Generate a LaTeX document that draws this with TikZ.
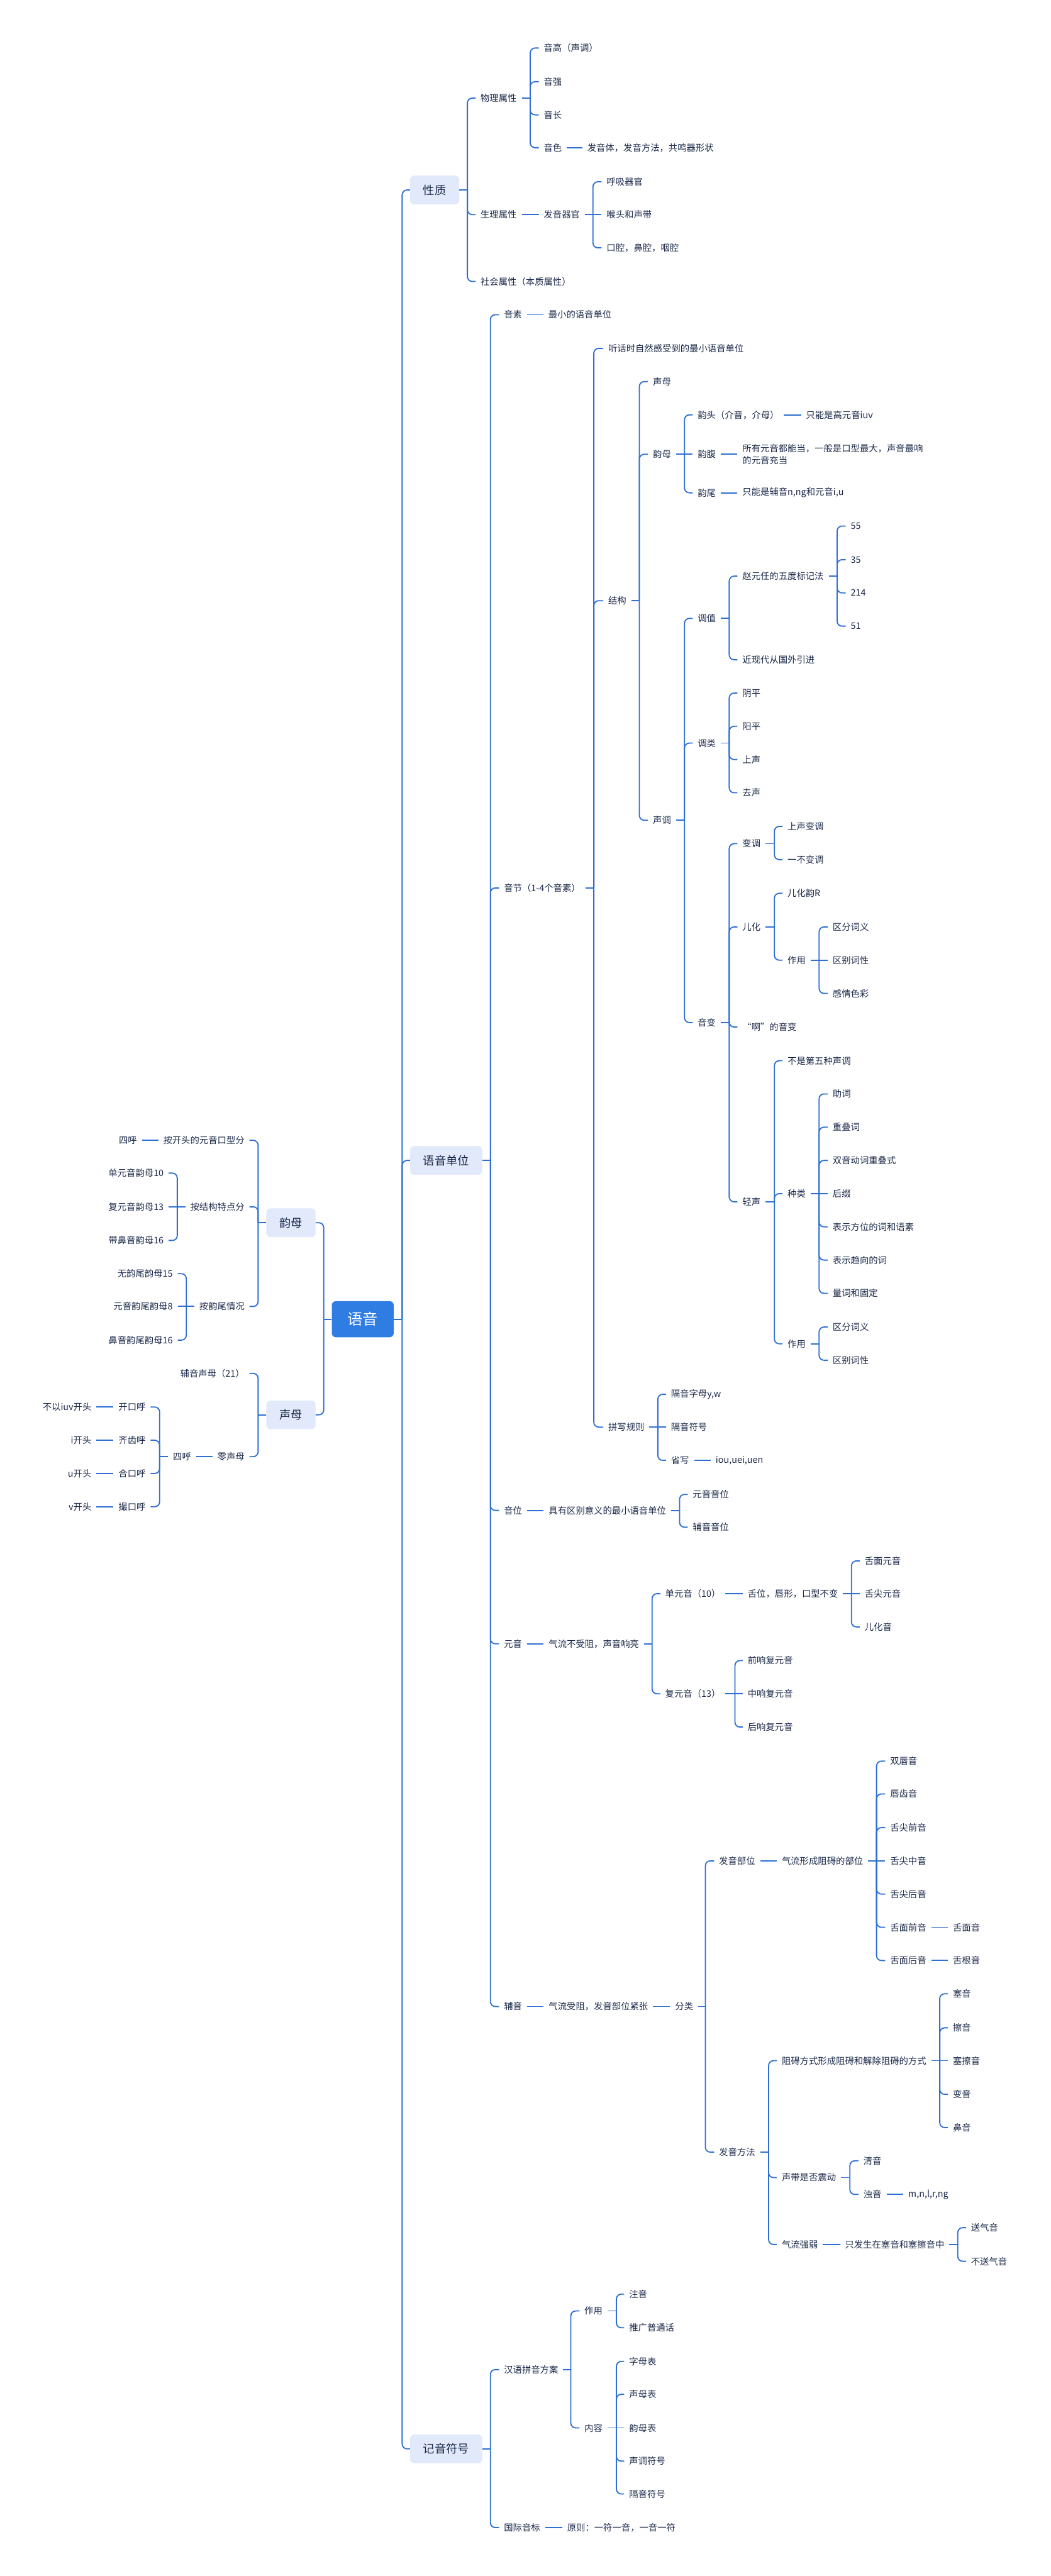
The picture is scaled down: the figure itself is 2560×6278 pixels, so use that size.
\documentclass[tikz,border=0pt]{standalone}
\usepackage{fontspec}
\setmainfont{Noto Sans CJK SC}
\usetikzlibrary{calc}
\definecolor{lnc}{HTML}{2D6FD3}
\definecolor{bxf}{HTML}{E2E9FB}
\definecolor{txc}{HTML}{1A2848}
\definecolor{rtf}{HTML}{2F7DE3}
\newcommand\fsleaf{\fontsize{22}{29}\selectfont}
\newcommand\fsbox{\fontsize{28}{34}\selectfont}
\newcommand\fsroot{\fontsize{37}{42}\selectfont}
\tikzset{
 ln/.style={draw=lnc, line width=2.8pt},
 lf/.style={anchor=west, xshift=-12pt, inner xsep=12pt, inner ysep=3pt, text=txc, font=\fsleaf},
 lfl/.style={anchor=east, xshift=12pt, inner xsep=12pt, inner ysep=3pt, text=txc, font=\fsleaf},
 bx/.style={anchor=west, fill=bxf, rounded corners=10pt, minimum height=70pt, inner xsep=32pt, text=txc, font=\fsbox},
 rootbx/.style={fill=rtf, rounded corners=10pt, minimum height=88pt, minimum width=151pt, text=white, font=\fsroot},
}
\newcommand\drawkidR[2]{%
  \path (#1); \pgfgetlastxy{\kAx}{\kAy}%
  \path (#2.west); \pgfgetlastxy{\kBx}{\kBy}%
  \pgfmathtruncatemacro\sameflag{abs(\kAy-\kBy)<1.5 ? 1 : 0}%
  \ifnum\sameflag=1 \draw[ln] (#1) -- (#2.west);\else\draw[ln,rounded corners=12pt] (#1) |- (#2.west);\fi}
\newcommand\drawkidL[2]{%
  \path (#1); \pgfgetlastxy{\kAx}{\kAy}%
  \path (#2.east); \pgfgetlastxy{\kBx}{\kBy}%
  \pgfmathtruncatemacro\sameflag{abs(\kAy-\kBy)<1.5 ? 1 : 0}%
  \ifnum\sameflag=1 \draw[ln] (#1) -- (#2.east);\else\draw[ln,rounded corners=12pt] (#1) |- (#2.east);\fi}
\newcommand\kidsR[3]{%
  \coordinate (sp) at (#2,0 |- #1.east);
  \draw[ln] (#1.east) -- (sp);
  \foreach \kk in {#3}{\drawkidR{sp}{\kk}}}
\newcommand\kidsL[3]{%
  \coordinate (sp) at (#2,0 |- #1.west);
  \draw[ln] (#1.west) -- (sp);
  \foreach \kk in {#3}{\drawkidL{sp}{\kk}}}
\newcommand\lineR[2]{\draw[ln] (#1.east) -- (#2.west);}
\newcommand\lineL[2]{\draw[ln] (#1.west) -- (#2.east);}
\begin{document}
\begin{tikzpicture}[x=1pt,y=-1pt]
\useasboundingbox (0,0) rectangle (2560,6278);
\fill[white] (0,0) rectangle (2560,6278);
% root and main boxes
\node[rootbx] (root) at (884,3215) {语音};
\node[bx] (xz) at (999,463) {性质};
\node[bx] (yydw) at (999,2828) {语音单位};
\node[bx] (jyfh) at (999,5968) {记音符号};
\node[bx,anchor=center] (lym) at (709,2980) {韵母};
\node[bx,anchor=center] (lsm) at (709,3448) {声母};
% 性质
\node[lf] (wl) at (1171,239) {物理属性};
\node[lf] (sl) at (1171,523) {生理属性};
\node[lf] (sh) at (1171,686) {社会属性（本质属性）};
\node[lf] (yg) at (1325,117) {音高（声调）};
\node[lf] (yq) at (1325,199) {音强};
\node[lf] (yc) at (1325,280) {音长};
\node[lf] (ys) at (1325,360) {音色};
\node[lf] (ysd) at (1431,360) {发音体，发音方法，共鸣器形状};
\node[lf] (fyqg) at (1325,523) {发音器官};
\node[lf] (hx) at (1478,443) {呼吸器官};
\node[lf] (ht) at (1478,523) {喉头和声带};
\node[lf] (kq) at (1478,604) {口腔，鼻腔，咽腔};
% 语音单位
\node[lf] (ysu) at (1228,767) {音素};
\node[lf] (ysud) at (1336,767) {最小的语音单位};
\node[lf] (yj) at (1228,2164) {音节（1-4个音素）};
\node[lf] (yw) at (1228,3681) {音位};
\node[lf] (ywd) at (1337,3681) {具有区别意义的最小语音单位};
\node[lf] (yy) at (1228,4006) {元音};
\node[lf] (yyd) at (1337,4006) {气流不受阻，声音响亮};
\node[lf] (fy) at (1228,4890) {辅音};
\node[lf] (fyd) at (1337,4890) {气流受阻，发音部位紧张};
\node[lf] (fl) at (1645,4890) {分类};
% 音节
\node[lf] (tk) at (1482,849) {听话时自然感受到的最小语音单位};
\node[lf] (jg) at (1482,1464) {结构};
\node[lf] (pxgz) at (1482,3478) {拼写规则};
\node[lf] (sm) at (1591,930) {声母};
\node[lf] (ym) at (1591,1107) {韵母};
\node[lf] (sd) at (1591,1999) {声调};
\node[lf] (yt) at (1700,1011) {韵头（介音，介母）};
\node[lf] (ytd) at (1964,1011) {只能是高元音iuv};
\node[lf] (yf) at (1700,1107) {韵腹};
\node[lf,align=left] (yfd) at (1809,1107) {所有元音都能当，一般是口型最大，声音最响\\的元音充当};
\node[lf] (yw2) at (1700,1201) {韵尾};
\node[lf] (ywd2) at (1809,1201) {只能是辅音n,ng和元音i,u};
\node[lf] (tz) at (1700,1507) {调值};
\node[lf] (tl) at (1700,1811) {调类};
\node[lf] (yb) at (1700,2492) {音变};
\node[lf] (zyr) at (1809,1404) {赵元任的五度标记法};
\node[lf] (jxd) at (1809,1608) {近现代从国外引进};
\node[lf] (n55) at (2073,1282) {55};
\node[lf] (n35) at (2073,1364) {35};
\node[lf] (n214) at (2073,1445) {214};
\node[lf] (n51) at (2073,1526) {51};
\node[lf] (yinp) at (1809,1689) {阴平};
\node[lf] (yangp) at (1809,1770) {阳平};
\node[lf] (ssh) at (1809,1851) {上声};
\node[lf] (qsh) at (1809,1932) {去声};
\node[lf] (bd) at (1809,2056) {变调};
\node[lf] (eh) at (1809,2259) {儿化};
\node[lf] (aa) at (1809,2503) {“啊”的音变};
\node[lf] (qs) at (1809,2929) {轻声};
\node[lf] (ssbd) at (1919,2014) {上声变调};
\node[lf] (ybbd) at (1919,2095) {一不变调};
\node[lf] (ehy) at (1919,2177) {儿化韵R};
\node[lf] (ehzy) at (1919,2340) {作用};
\node[lf] (qf1) at (2029,2259) {区分词义};
\node[lf] (qb1) at (2029,2340) {区别词性};
\node[lf] (gq) at (2029,2421) {感情色彩};
\node[lf] (bsd) at (1919,2585) {不是第五种声调};
\node[lf] (zl) at (1919,2909) {种类};
\node[lf] (qszy) at (1919,3275) {作用};
\node[lf] (zc) at (2029,2666) {助词};
\node[lf] (cdc) at (2029,2747) {重叠词};
\node[lf] (sydc) at (2029,2828) {双音动词重叠式};
\node[lf] (hz) at (2029,2909) {后缀};
\node[lf] (fw) at (2029,2990) {表示方位的词和语素};
\node[lf] (qx) at (2029,3071) {表示趋向的词};
\node[lf] (lcgd) at (2029,3152) {量词和固定};
\node[lf] (qf2) at (2029,3234) {区分词义};
\node[lf] (qb2) at (2029,3315) {区别词性};
\node[lf] (gyzm) at (1635,3398) {隔音字母y,w};
\node[lf] (gyfh) at (1635,3478) {隔音符号};
\node[lf] (sx) at (1635,3559) {省写};
\node[lf] (sxd) at (1744,3559) {iou,uei,uen};
% 音位
\node[lf] (yyyw) at (1688,3642) {元音音位};
\node[lf] (fyyw) at (1688,3722) {辅音音位};
% 元音
\node[lf] (dyy) at (1621,3884) {单元音（10）};
\node[lf] (dyyd) at (1822,3884) {舌位，唇形，口型不变};
\node[lf] (smyy) at (2107,3804) {舌面元音};
\node[lf] (sjyy) at (2107,3884) {舌尖元音};
\node[lf] (ehyin) at (2107,3965) {儿化音};
\node[lf] (fyy) at (1621,4128) {复元音（13）};
\node[lf] (qx1) at (1822,4047) {前响复元音};
\node[lf] (zx1) at (1822,4128) {中响复元音};
\node[lf] (hx1) at (1822,4209) {后响复元音};
% 辅音
\node[lf] (fybw) at (1752,4535) {发音部位};
\node[lf] (fybwd) at (1905,4535) {气流形成阻碍的部位};
\node[lf] (scy) at (2169,4292) {双唇音};
\node[lf] (ccy) at (2169,4372) {唇齿音};
\node[lf] (sjq) at (2169,4454) {舌尖前音};
\node[lf] (sjz) at (2169,4535) {舌尖中音};
\node[lf] (sjh) at (2169,4616) {舌尖后音};
\node[lf] (smq) at (2169,4697) {舌面前音};
\node[lf] (smh) at (2169,4778) {舌面后音};
\node[lf] (smy) at (2322,4697) {舌面音};
\node[lf] (sgy) at (2322,4778) {舌根音};
\node[lf] (fyff) at (1752,5245) {发音方法};
\node[lf] (zafs) at (1905,5022) {阻碍方式形成阻碍和解除阻碍的方式};
\node[lf] (sey) at (2322,4859) {塞音};
\node[lf] (cay) at (2322,4942) {擦音};
\node[lf] (scay) at (2322,5022) {塞擦音};
\node[lf] (bianyin) at (2322,5104) {变音};
\node[lf] (biyin) at (2322,5185) {鼻音};
\node[lf] (sdsf) at (1905,5307) {声带是否震动};
\node[lf] (qy) at (2104,5266) {清音};
\node[lf] (zy) at (2104,5348) {浊音};
\node[lf] (zyd) at (2213,5348) {m,n,l,r,ng};
\node[lf] (qlqr) at (1905,5470) {气流强弱};
\node[lf] (qlqrd) at (2059,5470) {只发生在塞音和塞擦音中};
\node[lf] (sqy) at (2366,5429) {送气音};
\node[lf] (bsqy) at (2366,5511) {不送气音};
% 记音符号
\node[lf] (hypy) at (1228,5775) {汉语拼音方案};
\node[lf] (gjyb) at (1228,6160) {国际音标};
\node[lf] (gjybd) at (1382,6160) {原则：一符一音，一音一符};
\node[lf] (pyzy) at (1424,5632) {作用};
\node[lf] (pynr) at (1424,5917) {内容};
\node[lf] (zhuy) at (1533,5591) {注音};
\node[lf] (tgpt) at (1533,5673) {推广普通话};
\node[lf] (zmb) at (1533,5755) {字母表};
\node[lf] (smb) at (1533,5835) {声母表};
\node[lf] (ymb) at (1533,5917) {韵母表};
\node[lf] (sdfh) at (1533,5998) {声调符号};
\node[lf] (gyfh2) at (1533,6078) {隔音符号};
% left side
\node[lfl] (l1) at (596,2779) {按开头的元音口型分};
\node[lfl] (l1d) at (334,2779) {四呼};
\node[lfl] (l2) at (596,2941) {按结构特点分};
\node[lfl] (l21) at (399,2859) {单元音韵母10};
\node[lfl] (l22) at (399,2941) {复元音韵母13};
\node[lfl] (l23) at (399,3023) {带鼻音韵母16};
\node[lfl] (l3) at (596,3184) {按韵尾情况};
\node[lfl] (l31) at (421,3104) {无韵尾韵母15};
\node[lfl] (l32) at (421,3184) {元音韵尾韵母8};
\node[lfl] (l33) at (421,3266) {鼻音韵尾韵母16};
\node[lfl] (l4) at (596,3347) {辅音声母（21）};
\node[lfl] (l5) at (596,3550) {零声母};
\node[lfl] (l5d) at (466,3550) {四呼};
\node[lfl] (k1) at (355,3429) {开口呼};
\node[lfl] (k2) at (355,3510) {齐齿呼};
\node[lfl] (k3) at (355,3591) {合口呼};
\node[lfl] (k4) at (355,3672) {撮口呼};
\node[lfl] (k1d) at (223,3429) {不以iuv开头};
\node[lfl] (k2d) at (223,3510) {i开头};
\node[lfl] (k3d) at (223,3591) {u开头};
\node[lfl] (k4d) at (223,3672) {v开头};
% connectors
\kidsR{root}{980}{xz,yydw,jyfh}
\kidsL{root}{789}{lym,lsm}
\kidsR{xz}{1139}{wl,sl,sh}
\kidsR{wl}{1292}{yg,yq,yc,ys}
\lineR{ys}{ysd}
\lineR{sl}{fyqg}
\kidsR{fyqg}{1445}{hx,ht,kq}
\kidsR{yydw}{1195}{ysu,yj,yw,yy,fy}
\lineR{ysu}{ysud}
\kidsR{yj}{1447}{tk,jg,pxgz}
\kidsR{jg}{1558}{sm,ym,sd}
\kidsR{ym}{1668}{yt,yf,yw2}
\lineR{yt}{ytd}
\lineR{yf}{yfd}
\lineR{yw2}{ywd2}
\kidsR{sd}{1668}{tz,tl,yb}
\kidsR{tz}{1777}{zyr,jxd}
\kidsR{zyr}{2040}{n55,n35,n214,n51}
\kidsR{tl}{1777}{yinp,yangp,ssh,qsh}
\kidsR{yb}{1777}{bd,eh,aa,qs}
\kidsR{bd}{1887}{ssbd,ybbd}
\kidsR{eh}{1887}{ehy,ehzy}
\kidsR{ehzy}{1996}{qf1,qb1,gq}
\kidsR{qs}{1887}{bsd,zl,qszy}
\kidsR{zl}{1996}{zc,cdc,sydc,hz,fw,qx,lcgd}
\kidsR{qszy}{1996}{qf2,qb2}
\kidsR{pxgz}{1603}{gyzm,gyfh,sx}
\lineR{sx}{sxd}
\lineR{yw}{ywd}
\kidsR{ywd}{1656}{yyyw,fyyw}
\lineR{yy}{yyd}
\kidsR{yyd}{1589}{dyy,fyy}
\lineR{dyy}{dyyd}
\kidsR{dyyd}{2075}{smyy,sjyy,ehyin}
\kidsR{fyy}{1791}{qx1,zx1,hx1}
\lineR{fy}{fyd}
\lineR{fyd}{fl}
\kidsR{fl}{1719}{fybw,fyff}
\lineR{fybw}{fybwd}
\kidsR{fybwd}{2136}{scy,ccy,sjq,sjz,sjh,smq,smh}
\lineR{smq}{smy}
\lineR{smh}{sgy}
\kidsR{fyff}{1873}{zafs,sdsf,qlqr}
\kidsR{zafs}{2290}{sey,cay,scay,bianyin,biyin}
\kidsR{sdsf}{2071}{qy,zy}
\lineR{zy}{zyd}
\lineR{qlqr}{qlqrd}
\kidsR{qlqrd}{2334}{sqy,bsqy}
\kidsR{jyfh}{1195}{hypy,gjyb}
\kidsR{hypy}{1391}{pyzy,pynr}
\kidsR{pyzy}{1502}{zhuy,tgpt}
\kidsR{pynr}{1502}{zmb,smb,ymb,sdfh,gyfh2}
\lineR{gjyb}{gjybd}
\kidsL{lym}{629}{l1,l2,l3}
\lineL{l1}{l1d}
\kidsL{l2}{432}{l21,l22,l23}
\kidsL{l3}{454}{l31,l32,l33}
\kidsL{lsm}{629}{l4,l5}
\lineL{l5}{l5d}
\kidsL{l5d}{389}{k1,k2,k3,k4}
\lineL{k1}{k1d}
\lineL{k2}{k2d}
\lineL{k3}{k3d}
\lineL{k4}{k4d}
\end{tikzpicture}
\end{document}
